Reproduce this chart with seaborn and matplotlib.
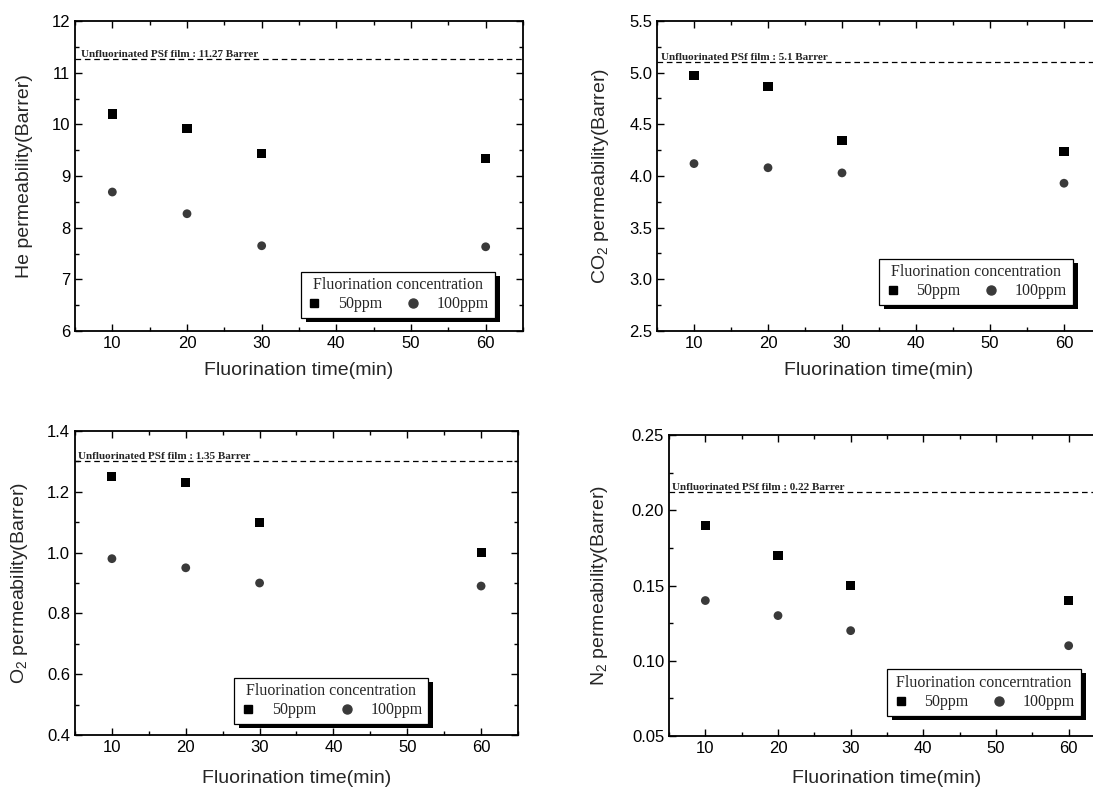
import pandas as pd
import matplotlib
matplotlib.use("Agg")
import matplotlib.pyplot as plt
import seaborn as sns
from matplotlib.lines import Line2D
from matplotlib.patches import Rectangle
from matplotlib.transforms import IdentityTransform
from matplotlib.ticker import MultipleLocator, FormatStrFormatter

sns.set_style("ticks")
plt.rcParams["font.family"] = ["Liberation Sans", "DejaVu Sans"]
plt.rcParams["mathtext.fontset"] = "custom"
plt.rcParams["mathtext.rm"] = "Liberation Sans"
plt.rcParams["mathtext.it"] = "Liberation Sans:italic"

# =========================
# DATA
# =========================
times = [10, 20, 30, 60]
concs = ["50ppm", "100ppm"]

he_50 = [10.20, 9.92, 9.44, 9.33]
he_100 = [8.69, 8.27, 7.65, 7.63]
co2_50 = [4.97, 4.87, 4.34, 4.24]
co2_100 = [4.12, 4.08, 4.03, 3.93]
o2_50 = [1.25, 1.23, 1.10, 1.00]
o2_100 = [0.98, 0.95, 0.90, 0.89]
n2_50 = [0.19, 0.17, 0.15, 0.14]
n2_100 = [0.14, 0.13, 0.12, 0.11]

ref_lines = [11.27, 5.10, 1.30, 0.212]
ref_texts = ["11.27", "5.1", "1.35", "0.22"]

ylabels = ["He permeability(Barrer)", "CO$_2$ permeability(Barrer)",
           "O$_2$ permeability(Barrer)", "N$_2$ permeability(Barrer)"]
legend_titles = ["Fluorination concentration", "Fluorination concentration",
                 "Fluorination concentration", "Fluorination concerntration"]

# =========================
# LAYOUT
# =========================
W, H = 1093, 790
fig = plt.figure(figsize=(W / 100, H / 100), dpi=100)

# axes boxes in pixels: left, right, top, bottom
boxes = [(75, 523, 21, 331), (657, 1101, 21, 331),
         (75, 518, 431, 735), (669, 1105, 435, 736)]
ylims = [(6, 12), (2.5, 5.5), (0.4, 1.4), (0.05, 0.25)]
ymajor = [1, 0.5, 0.2, 0.05]
yminor = [0.5, 0.25, 0.1, 0.025]
yfmt = ["%d", "%.1f", "%.1f", "%.2f"]
ylab_x = [-0.094, -0.104, -0.102, -0.136]
xlab_y = [-0.10, -0.10, -0.115, -0.113]
text_x = [0.013, 0.008, 0.006, 0.007]
legend_pos = [(0.504, 0.042), (0.50, 0.084), (0.36, 0.036), (0.50, 0.067)]

series = [(he_50, he_100), (co2_50, co2_100), (o2_50, o2_100), (n2_50, n2_100)]

serif = {"family": "Liberation Serif", "size": 11.5}
gray = "#3a3a3a"

legends = []
for i, (v50, v100) in enumerate(series):
    l, r, t, b = boxes[i]
    ax = fig.add_axes([l / W, (H - b) / H, (r - l) / W, (b - t) / H])

    df = pd.DataFrame({
        "time": times * 2,
        "perm": v50 + v100,
        "conc": [concs[0]] * len(times) + [concs[1]] * len(times),
    })
    sns.scatterplot(data=df, x="time", y="perm", hue="conc", style="conc",
                    size="conc",
                    palette={"50ppm": "black", "100ppm": gray},
                    markers={"50ppm": "s", "100ppm": "o"},
                    sizes={"50ppm": 42, "100ppm": 40},
                    linewidth=0, legend=False, ax=ax, zorder=3)

    ax.axhline(ref_lines[i], color="black", lw=0.9, ls=(0, (4.5, 3)), zorder=2)
    ax.text(text_x[i], ref_lines[i], f"Unfluorinated PSf film : {ref_texts[i]} Barrer",
            transform=ax.get_yaxis_transform(), ha="left", va="bottom",
            fontsize=8, fontweight="bold", family="Liberation Serif")

    ax.set_xlim(5, 65)
    ax.set_ylim(*ylims[i])
    ax.xaxis.set_major_locator(MultipleLocator(10))
    ax.xaxis.set_minor_locator(MultipleLocator(5))
    ax.yaxis.set_major_locator(MultipleLocator(ymajor[i]))
    ax.yaxis.set_minor_locator(MultipleLocator(yminor[i]))
    ax.yaxis.set_major_formatter(FormatStrFormatter(yfmt[i]))
    ax.tick_params(which="both", direction="in", top=True, right=True,
                   width=1, colors="black", labelsize=12)
    ax.tick_params(which="major", length=5)
    ax.tick_params(which="minor", length=3)
    for sp in ax.spines.values():
        sp.set_linewidth(1.3)
        sp.set_color("black")

    ax.set_xlabel("Fluorination time(min)", fontsize=14)
    ax.set_ylabel(ylabels[i], fontsize=14)
    ax.xaxis.set_label_coords(0.5, xlab_y[i])
    ax.yaxis.set_label_coords(ylab_x[i], 0.5)

    handles = [
        Line2D([], [], marker="s", ls="none", color="black", markersize=6),
        Line2D([], [], marker="o", ls="none", color=gray, markersize=6.5),
    ]
    leg = ax.legend(handles, concs, title=legend_titles[i], ncol=2,
                    loc="lower left", bbox_to_anchor=legend_pos[i],
                    borderaxespad=0, frameon=True, fancybox=False,
                    framealpha=1, edgecolor="black", prop=serif,
                    title_fontproperties=serif, borderpad=0.35,
                    labelspacing=0.2, handlelength=1.0, handletextpad=1.0,
                    columnspacing=1.4)
    leg.get_frame().set_linewidth(0.9)
    legends.append((ax, leg))

# black drop shadow behind each legend box
fig.canvas.draw()
for ax, leg in legends:
    bb = leg.get_window_extent()
    shadow = Rectangle((bb.x0 + 5, bb.y0 - 4), bb.width, bb.height,
                       transform=IdentityTransform(), facecolor="black",
                       edgecolor="none", zorder=4.9, clip_on=False)
    ax.add_artist(shadow)

fig.savefig("out.png", dpi=100)
